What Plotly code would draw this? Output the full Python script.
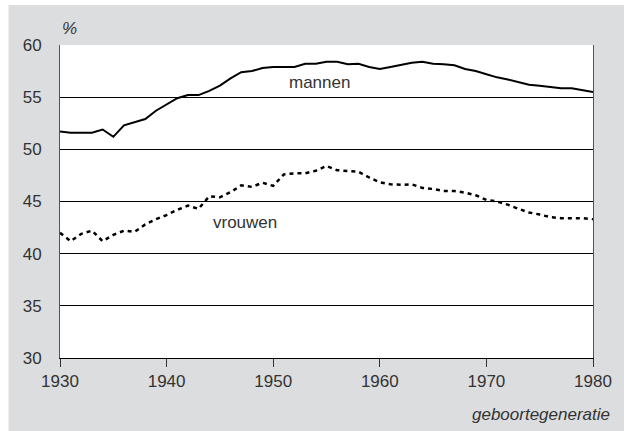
import plotly.graph_objects as go

# Geboortegeneratie en percentages
jaren = list(range(1930, 1981))

mannen = [51.7, 51.6, 51.6, 51.6, 51.9, 51.2, 52.3, 52.6, 52.9, 53.7,
          54.3, 54.9, 55.2, 55.2, 55.6, 56.1, 56.8, 57.4, 57.5, 57.8,
          57.9, 57.9, 57.9, 58.2, 58.2, 58.4, 58.4, 58.15, 58.2, 57.9,
          57.7, 57.9, 58.1, 58.3, 58.4, 58.2, 58.15, 58.05, 57.7, 57.5,
          57.2, 56.9, 56.7, 56.45, 56.2, 56.1, 56.0, 55.85, 55.85, 55.7,
          55.5]

vrouwen = [42.0, 41.2, 41.9, 42.2, 41.2, 41.8, 42.2, 42.1, 42.8, 43.3,
           43.7, 44.2, 44.6, 44.3, 45.5, 45.4, 45.9, 46.55, 46.4, 46.8,
           46.5, 47.6, 47.7, 47.7, 47.95, 48.4, 48.0, 47.9, 47.85, 47.3,
           46.85, 46.65, 46.6, 46.65, 46.3, 46.2, 46.0, 46.0, 45.85, 45.6,
           45.15, 45.0, 44.7, 44.3, 43.95, 43.75, 43.5, 43.4, 43.4, 43.4,
           43.3]

x_ticks = [1930, 1940, 1950, 1960, 1970, 1980]
y_ticks = [30, 35, 40, 45, 50, 55, 60]

FONT = "Liberation Sans, Arial, sans-serif"
GREY = "#dcdddf"
TXT = "#333333"
FS = 17

fig = go.Figure()
fig.add_trace(go.Scatter(x=jaren, y=mannen, mode="lines", name="mannen",
                         line=dict(color="black", width=2)))
fig.add_trace(go.Scatter(x=jaren, y=vrouwen, mode="lines", name="vrouwen",
                         line=dict(color="black", width=2.5, dash="4px,4px")))

fig.add_annotation(x=1954.3, y=56.45, text="mannen", showarrow=False,
                   font=dict(family=FONT, size=FS, color=TXT))
fig.add_annotation(x=1947.4, y=42.95, text="vrouwen", showarrow=False,
                   font=dict(family=FONT, size=FS, color=TXT))
fig.add_annotation(xref="paper", yref="paper", x=0.0, y=1.015,
                   xanchor="left", yanchor="bottom", text="<i>%</i>",
                   showarrow=False,
                   font=dict(family=FONT, size=FS, color=TXT))
fig.add_annotation(xref="paper", yref="paper", x=1.035, y=-0.145,
                   xanchor="right", yanchor="top",
                   text="<i>geboortegeneratie</i>", showarrow=False,
                   font=dict(family=FONT, size=FS, color=TXT))

# white strips around the grey panel
fig.add_shape(type="rect", xref="paper", yref="paper", x0=-0.12, x1=-0.0965,
              y0=-0.3, y1=1.2, fillcolor="white", line=dict(width=0),
              layer="below")
fig.add_shape(type="rect", xref="paper", yref="paper", x0=-0.12, x1=1.1,
              y0=1.1278, y1=1.2, fillcolor="white", line=dict(width=0),
              layer="below")

fig.update_layout(
    width=624, height=431,
    margin=dict(l=60, r=25, t=45, b=73),
    paper_bgcolor=GREY, plot_bgcolor="white",
    showlegend=False,
    font=dict(family=FONT, size=FS, color=TXT),
)
fig.update_xaxes(range=[1930, 1980], tickvals=x_ticks,
                 ticktext=[str(v) for v in x_ticks],
                 showgrid=False, zeroline=False,
                 showline=True, linecolor="black", linewidth=1,
                 mirror=False,
                 ticks="outside", ticklen=8, tickcolor=TXT,
                 tickfont=dict(size=FS))
fig.update_yaxes(range=[30, 60], tickvals=y_ticks,
                 ticktext=[str(v) for v in y_ticks],
                 showgrid=True, gridcolor="black", gridwidth=1,
                 zeroline=False,
                 showline=True, linecolor="#555555", linewidth=1,
                 mirror=True, ticks="", ticklabelstandoff=14,
                 tickfont=dict(size=FS))

fig.write_html("out.html")
